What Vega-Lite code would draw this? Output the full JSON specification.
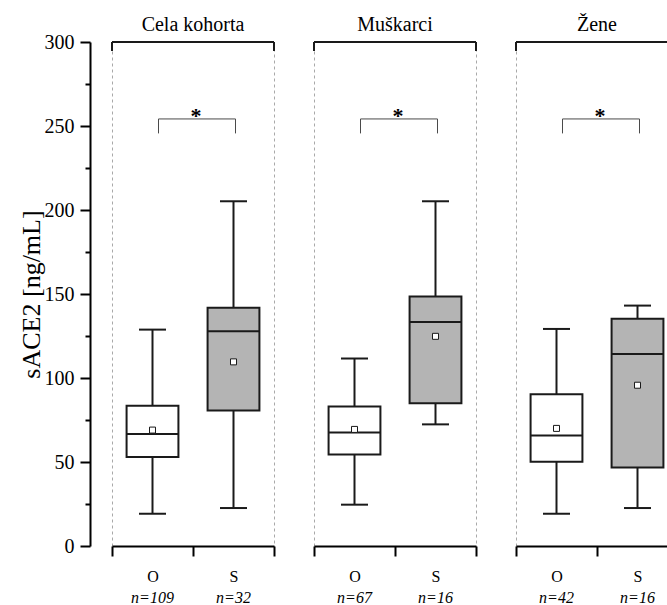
{
  "$schema": "https://vega.github.io/schema/vega-lite/v6.json",
  "padding": {"left": 18, "top": 15, "right": 0, "bottom": 0},
  "background": "white",
  "data": {
    "values": [
      {"skupina": "Cela kohorta", "grupa": "O", "n": 109, "min": 19.2, "q1": 53.0, "median": 66.7, "q3": 83.5, "max": 128.8, "mean": 69.0},
      {"skupina": "Cela kohorta", "grupa": "S", "n": 32, "min": 22.6, "q1": 80.6, "median": 127.8, "q3": 141.8, "max": 205.2, "mean": 109.6},
      {"skupina": "Muškarci", "grupa": "O", "n": 67, "min": 24.6, "q1": 54.4, "median": 67.5, "q3": 83.1, "max": 111.6, "mean": 69.4},
      {"skupina": "Muškarci", "grupa": "S", "n": 16, "min": 72.4, "q1": 84.9, "median": 133.4, "q3": 148.5, "max": 205.2, "mean": 124.8},
      {"skupina": "Žene", "grupa": "O", "n": 42, "min": 19.2, "q1": 50.1, "median": 65.7, "q3": 90.4, "max": 129.2, "mean": 70.0},
      {"skupina": "Žene", "grupa": "S", "n": 16, "min": 22.6, "q1": 46.8, "median": 114.3, "q3": 135.2, "max": 143.1, "mean": 95.7}
    ]
  },
  "transform": [{"calculate": "'n=' + datum.n", "as": "nLabel"}],
  "facet": {
    "column": {
      "field": "skupina",
      "type": "nominal",
      "sort": ["Cela kohorta", "Muškarci", "Žene"],
      "header": {
        "title": null,
        "labelFont": "Liberation Serif",
        "labelFontSize": 20,
        "labelColor": "black",
        "labelPadding": 5
      }
    }
  },
  "spacing": 36,
  "resolve": {"axis": {"x": "independent"}},
  "spec": {
    "width": 162,
    "height": 504,
    "layer": [
      {
        "mark": {"type": "rule", "stroke": "#1a1a1a", "strokeWidth": 2},
        "encoding": {
          "x": {
            "field": "grupa",
            "type": "nominal",
            "sort": ["O", "S"],
            "scale": {"paddingInner": 0, "paddingOuter": 0},
            "axis": {
              "title": null,
              "labelAngle": 0,
              "grid": false,
              "domainColor": "black",
              "domainWidth": 2,
              "tickBand": "extent",
              "tickSize": 10,
              "tickWidth": 2,
              "tickColor": "black",
              "labelFont": "Liberation Serif",
              "labelFontSize": 16,
              "labelColor": "black",
              "labelPadding": 12
            }
          },
          "y": {
            "field": "min",
            "type": "quantitative",
            "scale": {"domain": [0, 300], "nice": false},
            "axis": {
              "title": "sACE2 [ng/mL]",
              "titleFont": "Liberation Serif",
              "titleFontSize": 26,
              "titleFontWeight": "normal",
              "titleColor": "black",
              "titlePadding": 0,
              "offset": 20,
              "grid": false,
              "values": [0, 25, 50, 75, 100, 125, 150, 175, 200, 225, 250, 275, 300],
              "labelExpr": "datum.value % 50 === 0 ? datum.label : ''",
              "tickSize": {"condition": {"test": "datum.value % 50 === 0", "value": 10}, "value": 5},
              "tickWidth": 2,
              "tickColor": "black",
              "domainColor": "black",
              "domainWidth": 2,
              "labelFont": "Liberation Serif",
              "labelFontSize": 20,
              "labelColor": "black",
              "labelPadding": 6
            }
          },
          "y2": {"field": "max"}
        }
      },
      {
        "mark": {"type": "bar", "width": {"band": 0.64}, "stroke": "#1a1a1a", "strokeWidth": 2, "opacity": 1},
        "encoding": {
          "x": {"field": "grupa", "type": "nominal", "sort": ["O", "S"]},
          "y": {"field": "q1", "type": "quantitative"},
          "y2": {"field": "q3"},
          "fill": {
            "field": "grupa",
            "type": "nominal",
            "scale": {"domain": ["O", "S"], "range": ["#ffffff", "#b4b4b4"]},
            "legend": null
          }
        }
      },
      {
        "mark": {"type": "tick", "size": 52, "thickness": 2, "color": "#1a1a1a", "opacity": 1},
        "encoding": {
          "x": {"field": "grupa", "type": "nominal", "sort": ["O", "S"]},
          "y": {"field": "median", "type": "quantitative"}
        }
      },
      {
        "mark": {"type": "tick", "size": 27, "thickness": 2, "color": "#1a1a1a", "opacity": 1},
        "encoding": {
          "x": {"field": "grupa", "type": "nominal", "sort": ["O", "S"]},
          "y": {"field": "min", "type": "quantitative"}
        }
      },
      {
        "mark": {"type": "tick", "size": 27, "thickness": 2, "color": "#1a1a1a", "opacity": 1},
        "encoding": {
          "x": {"field": "grupa", "type": "nominal", "sort": ["O", "S"]},
          "y": {"field": "max", "type": "quantitative"}
        }
      },
      {
        "mark": {"type": "point", "shape": "square", "size": 36, "filled": true, "fill": "white", "stroke": "#1a1a1a", "strokeWidth": 1, "opacity": 1},
        "encoding": {
          "x": {"field": "grupa", "type": "nominal", "sort": ["O", "S"]},
          "y": {"field": "mean", "type": "quantitative"}
        }
      },
      {
        "transform": [{"filter": "datum.grupa === 'O'"}],
        "mark": {"type": "rule", "stroke": "#4a4a4a", "strokeWidth": 1, "xOffset": 6},
        "encoding": {
          "x": {"field": "grupa", "type": "nominal", "sort": ["O", "S"]},
          "y": {"datum": 254.2, "type": "quantitative"},
          "y2": {"datum": 245.6}
        }
      },
      {
        "transform": [{"filter": "datum.grupa === 'S'"}],
        "mark": {"type": "rule", "stroke": "#4a4a4a", "strokeWidth": 1, "xOffset": 2},
        "encoding": {
          "x": {"field": "grupa", "type": "nominal", "sort": ["O", "S"]},
          "y": {"datum": 254.2, "type": "quantitative"},
          "y2": {"datum": 245.6}
        }
      },
      {
        "transform": [{"filter": "datum.grupa === 'O'"}],
        "mark": {"type": "rule", "stroke": "#4a4a4a", "strokeWidth": 1, "xOffset": 6, "x2Offset": 2},
        "encoding": {
          "x": {"datum": "O", "type": "nominal"},
          "x2": {"datum": "S"},
          "y": {"datum": 254.2, "type": "quantitative"}
        }
      },
      {
        "transform": [{"filter": "datum.grupa === 'O'"}],
        "mark": {"type": "text", "text": "*", "font": "Liberation Serif", "fontSize": 22, "fontWeight": "bold", "color": "black", "baseline": "alphabetic", "align": "center", "dy": 4, "xOffset": 3},
        "encoding": {
          "y": {"datum": 254.2, "type": "quantitative"}
        }
      },
      {
        "transform": [{"filter": "datum.grupa === 'O'"}],
        "mark": {"type": "rule", "stroke": "#1a1a1a", "strokeWidth": 2},
        "encoding": {
          "y": {"datum": 300, "type": "quantitative"}
        }
      },
      {
        "transform": [{"filter": "datum.grupa === 'O'"}],
        "mark": {"type": "rule", "stroke": "#1a1a1a", "strokeWidth": 2},
        "encoding": {
          "x": {"field": "grupa", "type": "nominal", "sort": ["O", "S"], "bandPosition": 0},
          "y": {"datum": 300, "type": "quantitative"},
          "y2": {"datum": 294.6}
        }
      },
      {
        "transform": [{"filter": "datum.grupa === 'S'"}],
        "mark": {"type": "rule", "stroke": "#1a1a1a", "strokeWidth": 2},
        "encoding": {
          "x": {"field": "grupa", "type": "nominal", "sort": ["O", "S"], "bandPosition": 1},
          "y": {"datum": 300, "type": "quantitative"},
          "y2": {"datum": 294.6}
        }
      },
      {
        "mark": {"type": "text", "font": "Liberation Serif", "fontSize": 16, "fontStyle": "italic", "color": "black", "baseline": "alphabetic", "align": "center", "dy": 57},
        "encoding": {
          "x": {"field": "grupa", "type": "nominal", "sort": ["O", "S"]},
          "y": {"datum": 0, "type": "quantitative"},
          "text": {"field": "nLabel"}
        }
      }
    ]
  },
  "config": {
    "view": {"stroke": "#a9a9a9", "strokeDash": [3, 3], "strokeWidth": 1},
    "font": "Liberation Serif"
  }
}
